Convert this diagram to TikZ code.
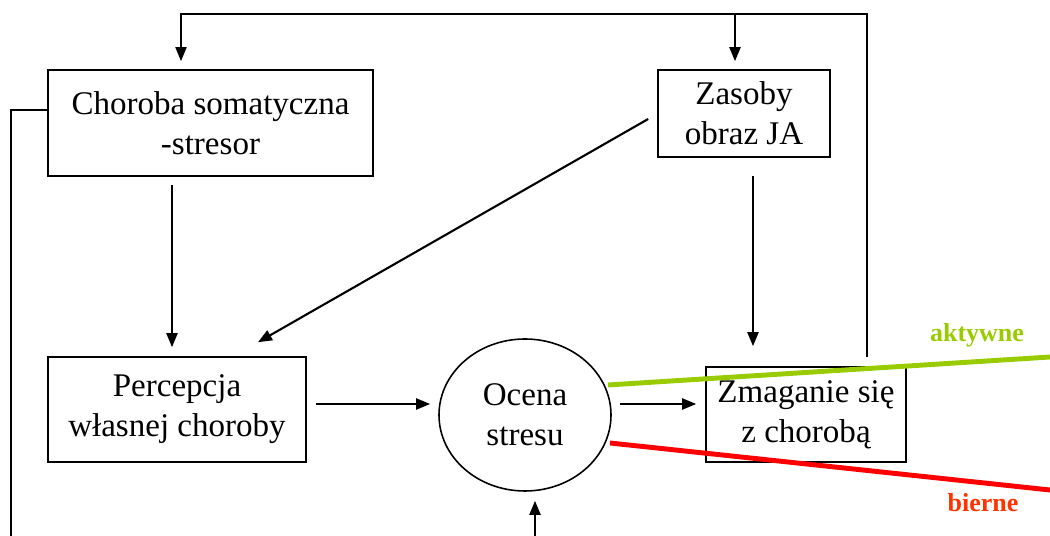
\documentclass[tikz,border=0pt]{standalone}
\usepackage{fontspec}
\setmainfont{Liberation Serif}
\usepackage{tikz}
\usetikzlibrary{arrows.meta,positioning,shapes.geometric,calc}
\usepackage{xcolor}
\definecolor{activegreen}{HTML}{99CC00}
\definecolor{passivered}{HTML}{FF0000}
\definecolor{passivelabel}{HTML}{FF3300}

\begin{document}
\begin{tikzpicture}[scale=1.0,
    box/.style={draw, line width=0.9pt, align=center, inner sep=0pt,
      font=\fontsize{18.8}{22.7}\selectfont},
    arr/.style={-{Triangle[length=0.28cm,width=0.22cm]}, line width=1.2pt}]
    \useasboundingbox (0,0) rectangle (21,-10.72);
    % Boxes
    \node[box, minimum width=6.5cm, minimum height=2.12cm] (chor) at (4.21,-2.46)
         {Choroba somatyczna\\-stresor};
    \node[box, minimum width=3.44cm, minimum height=1.74cm] (zas) at (14.88,-2.27)
         {Zasoby\\obraz JA};
    \node[box, minimum width=5.16cm, minimum height=2.1cm] (perc) at (3.54,-8.19)
         {Percepcja\\własnej choroby};
    \node[box, ellipse, minimum width=3.44cm, minimum height=3.04cm] (ocena) at (10.5,-8.3)
         {Ocena\\stresu};
    \node[box, minimum width=4.0cm, minimum height=1.9cm] (zmag) at (16.12,-8.29)
         {Zmaganie się\\z chorobą};
    % Free ends at the border
    \coordinate (back) at (17.34,-7.14);
    \coordinate (left) at (0.22,-10.72);
    \coordinate (below) at (10.7,-10.72);
    % Feedback loop over the top
    \draw[arr, line width=1pt] (back) -- (17.34,-0.28) -| ([xshift=-0.59cm,yshift=0.16cm]chor.north);
    \draw[arr] ([xshift=-0.18cm]zas.north) ++(0,1.12) -- ([xshift=-0.18cm,yshift=0.16cm]zas.north);
    \draw[line width=0.9pt] ([yshift=0.26cm]chor.west) -| (left);
    % Arrows between nodes
    \draw[arr, shorten <=0.16cm, shorten >=0.18cm]
         ([xshift=-0.77cm]chor.south) -- ([xshift=-0.77cm]chor.south |- perc.north);
    \draw[arr] ([xshift=-0.18cm,yshift=-0.11cm]zas.west) -- ([xshift=1.62cm,yshift=0.28cm]perc.north);
    \draw[arr, shorten <=0.36cm, shorten >=0.4cm]
         ([xshift=0.18cm]zas.south) -- ([xshift=0.18cm]zas.south |- zmag.north);
    \draw[arr, shorten <=0.18cm, shorten >=0.16cm]
         ([yshift=0.11cm]perc.east) -- ([yshift=0.11cm]perc.east -| ocena.west);
    \draw[arr, shorten <=0.16cm, shorten >=0.18cm]
         ([yshift=0.22cm]ocena.east) -- ([yshift=0.22cm]ocena.east -| zmag.west);
    \draw[arr, shorten >=0.18cm] (below) -- (below |- ocena.south);
    % Coping styles
    \draw[activegreen, line width=2.8pt] (12.16,-7.7) -- (21,-7.14);
    \node[activegreen, font=\fontsize{14.8}{17}\selectfont\bfseries] (akt) at (19.54,-6.7) {aktywne};
    \draw[passivered, line width=2.8pt] (12.2,-8.86) -- (21,-9.8);
    \node[passivelabel, font=\fontsize{14.8}{17}\selectfont\bfseries] (bier) at (19.66,-10.06) {bierne};
\end{tikzpicture}
\end{document}
